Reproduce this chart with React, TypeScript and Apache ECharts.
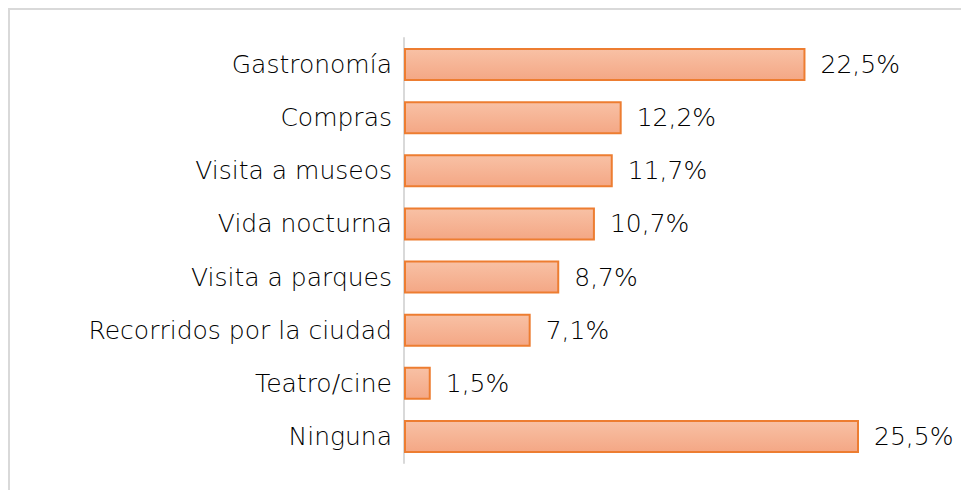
import React, { useEffect, useRef } from "react";
import * as echarts from "echarts";

const categories = [
  "Gastronomía",
  "Compras",
  "Visita a museos",
  "Vida nocturna",
  "Visita a parques",
  "Recorridos por la ciudad",
  "Teatro/cine",
  "Ninguna",
];
const values = [22.5, 12.2, 11.7, 10.7, 8.7, 7.1, 1.5, 25.5];

const FONT = "'DejaVu Sans'";

export default function App() {
  const ref = useRef<HTMLDivElement>(null);
  useEffect(() => {
    if (!ref.current) return;
    const chart = echarts.init(ref.current, null, { renderer: "svg" });
    chart.setOption({
      animation: false,
      grid: { left: 404, right: 102, top: 38, bottom: 27, containLabel: false },
      xAxis: {
        type: "value",
        min: 0,
        max: 25.5,
        show: false,
      },
      yAxis: {
        type: "category",
        data: categories,
        inverse: true,
        axisLine: { show: true, lineStyle: { color: "#d9d9d9", width: 2 } },
        axisTick: { show: false },
        axisLabel: {
          color: "#000",
          fontFamily: FONT,
          fontSize: 25,
          fontWeight: 200,
          margin: 12,
        },
        splitLine: { show: false },
      },
      series: [
        {
          type: "bar",
          data: values,
          barWidth: 33,
          itemStyle: {
            color: new echarts.graphic.LinearGradient(0, 0, 0, 1, [
              { offset: 0, color: "#f8c1a5" },
              { offset: 1, color: "#f4a785" },
            ]),
            borderColor: "#ed7d31",
            borderWidth: 2,
          },
          label: {
            show: true,
            position: "right",
            distance: 15,
            color: "#000",
            fontFamily: FONT,
            fontSize: 25,
            fontWeight: 200,
            formatter: (p: any) => p.value.toFixed(1).replace(".", ",") + "%",
          },
        },
      ],
    });
    return () => chart.dispose();
  }, []);
  return (
    <div style={{ position: "absolute", left: 0, top: 0, width: 961, height: 490, overflow: "hidden", background: "#fff" }}>
      <div
        style={{
          position: "absolute",
          left: 8,
          top: 8,
          width: 960,
          height: 490,
          borderTop: "2px solid #d9d9d9",
          borderLeft: "2px solid #d9d9d9",
        }}
      />
      <div ref={ref} style={{ position: "absolute", left: 0, top: 0, width: 961, height: 490 }} />
    </div>
  );
}
